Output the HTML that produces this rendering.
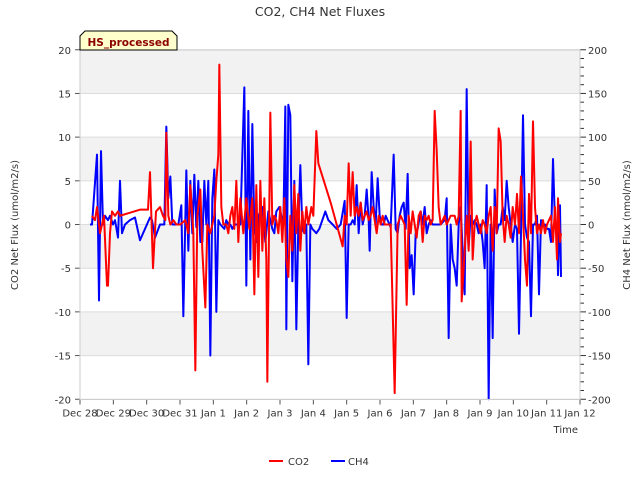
<!DOCTYPE html>
<html><head><meta charset="utf-8"><style>
body{margin:0;background:#fff}
svg{font-family:"DejaVu Sans","Liberation Sans",sans-serif}
</style></head><body>
<svg id="chart" width="640" height="480" viewBox="0 0 640 480">
<text x="320" y="16" text-anchor="middle" font-size="12.5" fill="#333">CO2, CH4 Net Fluxes</text>
<g id="bands"></g><g id="grid"></g><g id="series"></g><g id="axes"></g>
<path d="M80,50 L80,36 L85,31 L172,31 L177,36 L177,50 Z" fill="#ffffcc" stroke="#000" stroke-width="1"/>
<text x="128.5" y="46" text-anchor="middle" font-size="10.5" font-weight="bold" fill="#8b0000">HS_processed</text>
<text transform="translate(18,225) rotate(-90)" text-anchor="middle" font-size="10" fill="#333">CO2 Net Flux (umol/m2/s)</text>
<text transform="translate(630,225) rotate(-90)" text-anchor="middle" font-size="10" fill="#333">CH4 Net Flux (nmol/m2/s)</text>
<text x="578" y="433" text-anchor="end" font-size="10" fill="#333">Time</text>
<g>
<line x1="269" y1="461" x2="283" y2="461" stroke="#f00" stroke-width="2"/>
<text x="288" y="465" font-size="10" fill="#333">CO2</text>
<line x1="331" y1="461" x2="345" y2="461" stroke="#00f" stroke-width="2"/>
<text x="348" y="465" font-size="10" fill="#333">CH4</text>
</g>
</svg>
<script>
const xTickLabels=["Dec 28","Dec 29","Dec 30","Dec 31","Jan 1","Jan 2","Jan 3","Jan 4","Jan 5","Jan 6","Jan 7","Jan 8","Jan 9","Jan 10","Jan 11","Jan 12"];
const leftTicks=[-20,-15,-10,-5,0,5,10,15,20];
const rightTicks=[-200,-150,-100,-50,0,50,100,150,200];
const co2Days=[0.36,0.45,0.51,0.60,0.72,0.81,0.84,0.90,0.96,1.05,1.14,1.20,1.80,2.04,2.10,2.19,2.28,2.40,2.49,2.56,2.59,2.65,2.71,2.80,2.89,3.01,3.16,3.25,3.31,3.40,3.46,3.52,3.61,3.67,3.76,3.82,3.91,4.03,4.09,4.15,4.18,4.24,4.30,4.39,4.45,4.51,4.57,4.63,4.69,4.75,4.81,4.90,4.99,5.08,5.17,5.23,5.29,5.35,5.41,5.47,5.53,5.59,5.62,5.71,5.77,5.83,5.89,5.95,6.01,6.07,6.13,6.19,6.25,6.31,6.37,6.43,6.49,6.55,6.61,6.67,6.73,6.79,6.85,6.94,7.00,7.09,7.15,7.52,7.88,7.94,8.00,8.06,8.12,8.18,8.24,8.30,8.36,8.42,8.48,8.54,8.60,8.66,8.72,8.78,8.84,8.90,8.96,9.02,9.08,9.14,9.20,9.26,9.32,9.44,9.53,9.62,9.74,9.80,9.86,9.92,9.98,10.04,10.10,10.16,10.22,10.28,10.34,10.40,10.46,10.52,10.58,10.64,10.70,10.76,10.82,10.88,10.94,11.00,11.06,11.12,11.24,11.30,11.36,11.42,11.45,11.51,11.60,11.66,11.72,11.78,11.84,11.90,11.96,12.02,12.08,12.14,12.20,12.26,12.32,12.38,12.44,12.50,12.56,12.62,12.68,12.74,12.80,12.86,12.92,12.98,13.05,13.11,13.17,13.23,13.29,13.35,13.41,13.47,13.53,13.59,13.65,13.71,13.77,13.83,13.89,13.95,14.01,14.07,14.13,14.19,14.25,14.31,14.34,14.40,14.43];
const co2Values=[1,0.5,2,-1,1,-7,-7,-1,1.5,1,1.5,1,1.7,1.7,6,-5,1.5,2,1,0.5,10.5,1,0,0.5,0,0,0.5,-1,4.5,-1,-16.7,1,4,-3,-9.5,0,-1,1,5,8,18.3,2,0,0,-1,1,2,-0.5,5,-2,3,-1,3,-0.5,3,-8,4.5,-6,5,-3,3,-4,-18,12.8,0,1,0.5,-1,2,-2,3,-4,-6,1,-3,4.5,-1,3.5,-3,1.5,-1,2,0,2,1,10.7,7,2.5,-2.5,1,0,7,1,6,1,2,1,2.5,0.5,1,1.5,0.5,1,2,0.5,-1,1,0,1,0,0,0,0,-19.3,0,1,0,-9.2,1,-1,1.5,0,-1.5,1,1.5,-2,1,0.5,1,0,0.5,13,8.5,2,0,0.5,1,0,0.5,1,1,0,1,13,-8.8,-5,1,-3,9.5,-4,0,1,0,-1,0.5,0,-1,1,2,-3,2,-1,11,9.5,1,-2,1,0,-1.5,2,0,3.5,-1,5.5,1,-4,-7,3.5,-1,11.8,2,-1,0,-1,0.5,-1,0,0.5,1,-2,2,-4,3,-2,-1];
const ch4Days=[0.30,0.36,0.51,0.57,0.63,0.69,0.75,0.84,0.90,0.99,1.05,1.14,1.20,1.26,1.35,1.44,1.50,1.65,1.80,1.95,2.10,2.16,2.25,2.40,2.46,2.53,2.59,2.65,2.71,2.77,2.86,2.95,3.04,3.10,3.19,3.25,3.31,3.37,3.43,3.49,3.55,3.61,3.67,3.73,3.79,3.85,3.91,3.97,4.03,4.09,4.15,4.21,4.33,4.39,4.45,4.51,4.57,4.63,4.69,4.81,4.93,4.99,5.05,5.11,5.17,5.23,5.29,5.35,5.47,5.56,5.65,5.71,5.77,5.83,5.89,5.98,6.10,6.16,6.19,6.25,6.31,6.37,6.43,6.49,6.55,6.61,6.67,6.73,6.79,6.85,6.91,6.97,7.09,7.18,7.27,7.36,7.45,7.58,7.70,7.82,7.94,8.00,8.06,8.12,8.18,8.24,8.30,8.36,8.42,8.48,8.54,8.60,8.66,8.69,8.75,8.81,8.87,8.93,8.99,9.05,9.11,9.17,9.32,9.41,9.47,9.53,9.59,9.65,9.71,9.77,9.83,9.89,9.95,10.01,10.07,10.13,10.22,10.28,10.34,10.40,10.46,10.52,10.58,10.64,10.70,10.82,10.94,11.00,11.06,11.12,11.18,11.24,11.30,11.36,11.42,11.54,11.60,11.66,11.72,11.78,11.84,11.90,11.96,12.02,12.08,12.14,12.20,12.26,12.32,12.38,12.44,12.50,12.56,12.62,12.68,12.74,12.80,12.86,12.92,12.98,13.05,13.11,13.17,13.23,13.29,13.35,13.41,13.47,13.53,13.59,13.65,13.71,13.77,13.83,13.89,13.95,14.01,14.07,14.13,14.19,14.25,14.31,14.34,14.40,14.43];
const ch4Values=[0,0,80,-87,84,0,10,5,10,0,5,-15,50,-10,0,3,5,8,-18,-5,8,5,-15,0,0,0,112,30,55,0,0,0,22,-105,62,-30,50,-10,57,-3,50,-20,-20,50,0,50,-150,30,63,-100,5,0,-5,5,0,0,-5,0,0,0,157,-70,130,-40,115,-5,-20,10,20,-20,15,5,-5,-10,15,20,0,135,-120,137,125,-65,50,-120,0,68,-5,-10,0,-160,0,-5,-10,-5,5,15,5,0,-5,0,27,-107,0,0,5,0,45,-10,25,0,10,40,5,-30,60,20,0,53,10,0,0,10,-3,80,-5,-10,10,20,25,-5,58,-50,-35,-80,-10,-5,15,0,20,-10,0,5,0,0,0,0,5,30,-130,0,-40,-50,-70,0,20,-80,155,-25,10,0,5,0,-10,0,-20,-50,45,-200,0,-130,40,-10,0,0,20,5,50,20,0,-20,0,-5,-125,-10,125,0,-15,-20,-105,0,0,10,-80,5,0,0,-5,-5,-20,75,0,0,-58,22,-60];

const L=80,R=580,T=50,B=399.5;
const xs=d=>L+d*(R-L)/15;
const yl=v=>224.5-v*(B-T)/40;
const yr=v=>224.5-v*(B-T)/400;
const NS="http://www.w3.org/2000/svg";
function mk(tag,attrs,parent){const e=document.createElementNS(NS,tag);for(const k in attrs)e.setAttribute(k,attrs[k]);parent.appendChild(e);return e;}
const bands=document.getElementById('bands'),grid=document.getElementById('grid'),series=document.getElementById('series'),axes=document.getElementById('axes');
mk('rect',{x:L,y:T,width:R-L,height:B-T,fill:'#fff'},bands);
for(let v=15;v>-20;v-=10){const b=mk('rect',{x:L,y:yl(v+5),width:R-L,height:yl(v)-yl(v+5),fill:'#f2f2f2'},bands);

}
leftTicks.forEach(v=>{const g=mk('line',{x1:L,x2:R,y1:yl(v),y2:yl(v),stroke:'#dcdcdc','stroke-width':1},grid);


const t=mk('text',{x:L-9,y:yl(v)+4,'text-anchor':'end','font-size':10,fill:'#333'},axes);t.textContent=v;


mk('line',{x1:L-5,x2:L,y1:yl(v),y2:yl(v),stroke:'#555'},axes);});
for(let v=-200;v<=200;v+=10){mk('line',{x1:R,x2:R+(v%50===0?6:4),y1:yr(v),y2:yr(v),stroke:'#333'},axes);}
rightTicks.forEach(v=>{const t=mk('text',{x:R+8,y:yr(v)+4,'font-size':10,fill:'#333'},axes);t.textContent=v;

});
xTickLabels.forEach((s,i)=>{mk('line',{x1:xs(i),x2:xs(i),y1:B,y2:B+5,stroke:'#555'},axes);
const t=mk('text',{x:xs(i),y:B+17,'text-anchor':'middle','font-size':10,fill:'#333'},axes);t.textContent=s;

});
mk('rect',{x:L,y:T,width:R-L,height:B-T,fill:'none',stroke:'#ccc'},axes);
const ch4=mk('polyline',{points:ch4Days.map((d,i)=>xs(d)+','+yr(ch4Values[i])).join(' '),fill:'none',stroke:'#00f','stroke-width':2,'stroke-linejoin':'round'},series);


const co2=mk('polyline',{points:co2Days.map((d,i)=>xs(d)+','+yl(co2Values[i])).join(' '),fill:'none',stroke:'#f00','stroke-width':2,'stroke-linejoin':'round'},series);


</script>
</body></html>
